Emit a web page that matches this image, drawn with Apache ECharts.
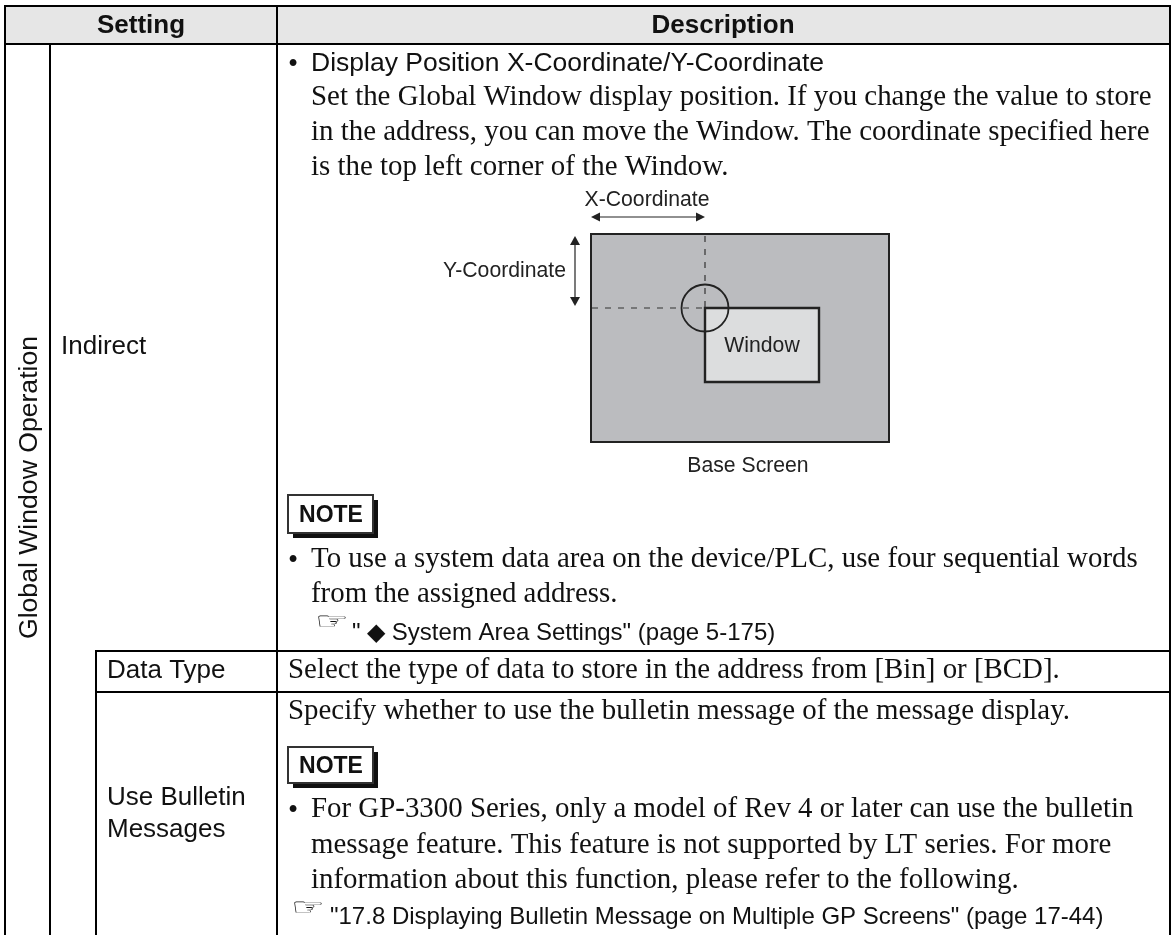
<!DOCTYPE html>
<html><head><meta charset="utf-8">
<style>html,body{margin:0;padding:0;background:#fff}#c{width:1172px;height:935px}</style>
<script src="https://cdn.jsdelivr.net/npm/echarts@6/dist/echarts.min.js"></script>
</head><body><div id="c"></div>
<script>
const headerLabels = ['Setting', 'Description'];
const settingLabels = ['Global Window Operation', 'Indirect', 'Data Type', 'Use Bulletin', 'Messages'];
const serifLines = [
  'Set the Global Window display position. If you change the value to store',
  'in the address, you can move the Window. The coordinate specified here',
  'is the top left corner of the Window.',
  'To use a system data area on the device/PLC, use four sequential words',
  'from the assigned address.',
  'Select the type of data to store in the address from [Bin] or [BCD].',
  'Specify whether to use the bulletin message of the message display.',
  'For GP-3300 Series, only a model of Rev 4 or later can use the bulletin',
  'message feature. This feature is not supported by LT series. For more',
  'information about this function, please refer to the following.'
];
const diagramLabels = ['X-Coordinate', 'Y-Coordinate', 'Window', 'Base Screen'];
const bulletTitle = 'Display Position X-Coordinate/Y-Coordinate';
const noteLabel = 'NOTE';
const refLines = ['" \u25C6 System Area Settings" (page 5-175)', '"17.8 Displaying Bulletin Message on Multiple GP Screens" (page 17-44)'];

const SANS = '"Liberation Sans", Arial, sans-serif', SERIF = '"Liberation Serif", "Times New Roman", serif';
const INK = '#111', G = [];
function T(text, x, y, size, family, opt) {
  opt = opt || {};
  G.push({type:'text', x, y: y + (opt.rot ? 0 : 1.5), rotation: opt.rot || 0, z: 5, scaleY: opt.sy || 1, style:{text, fill: opt.fill || INK,
    font: (opt.bold ? 'bold ' : '') + size + 'px ' + family, textAlign: opt.align || 'left', textVerticalAlign:'middle', verticalAlign:'middle'}});
}
function L(x1, y1, x2, y2, w, dash, col) {
  G.push({type:'line', z: 3, shape:{x1,y1,x2,y2}, style:{stroke: col || '#000', lineWidth: w, lineDash: dash || null}});
}
function R(x, y, w, h, fill, stroke, lw, z) {
  G.push({type:'rect', z: z || 1, shape:{x,y,width:w,height:h}, style:{fill, stroke: stroke || null, lineWidth: lw || 0}});
}
function Tri(pts) { G.push({type:'polygon', z:4, shape:{points:pts}, style:{fill:'#222'}}); }
function Note(x, y, h) {
  R(x + 5, y + 5, 85, h, '#111', null, 0, 2);
  R(x, y, 85, h, '#fff', '#333', 2, 3);
  T(noteLabel, x + 43, y + h / 2, 23, SANS, {bold:true, align:'center'});
}
function Hand(x, y) { T('\u261E', x, y, 38, '"DejaVu Sans"', {sy: 0.62}); }

R(5, 6, 1165, 38, '#e6e6e6');
const lw = 2;
L(4, 6, 1171, 6, lw); L(4, 44, 1171, 44, lw);
L(95, 651, 1171, 651, lw); L(95, 692, 1171, 692, lw);
L(5, 5, 5, 935, lw); L(50, 44, 50, 935, lw); L(96, 651, 96, 935, lw);
L(277, 5, 277, 935, lw); L(1170, 5, 1170, 935, lw);

T(headerLabels[0], 141, 24, 26, SANS, {bold:true, align:'center'});
T(headerLabels[1], 723, 24, 26, SANS, {bold:true, align:'center'});
T(settingLabels[0], 30, 487.5, 26.6, SANS, {rot: Math.PI/2, align:'center'});
T(settingLabels[1], 61, 345, 26, SANS);
T(settingLabels[2], 107, 669, 26, SANS);
T(settingLabels[3], 107, 796, 26, SANS);
T(settingLabels[4], 107, 828, 26, SANS);

const serifY = [96,131,166,558,593,669,710,808,844,879];
const serifX = [311,311,311,311,311,288,288,311,311,311];
serifLines.forEach((s,i)=>T(s, serifX[i], serifY[i], 28.9, SERIF));
T('\u2022', 288, 64, 29, SERIF); T('\u2022', 288, 560, 29, SERIF); T('\u2022', 288, 810, 29, SERIF);
T(bulletTitle, 311, 62, 26.5, SANS);
Note(288, 495, 38); Note(288, 747, 36);
Hand(315, 621); T(refLines[0], 352, 632, 24, SANS);
Hand(291, 907); T(refLines[1], 330, 916, 24, SANS);

R(591, 234, 298, 208, '#bbbcbf', '#222', 2, 2);
R(705, 308, 114, 74, '#dcddde', '#222', 2.4, 3);
L(705, 236, 705, 308, 1.2, [6,7], '#333'); L(592, 308, 705, 308, 1.2, [6,7], '#333');
G.push({type:'circle', z:4, shape:{cx:705, cy:308, r:23.5}, style:{fill:null, stroke:'#222', lineWidth:1.8}});
L(596, 217, 700, 217, 1.2, null, '#222'); L(575, 241, 575, 301, 1.2, null, '#222');
Tri([[591,217],[600,212.5],[600,221.5]]); Tri([[705,217],[696,212.5],[696,221.5]]);
Tri([[575,236],[570,245],[580,245]]); Tri([[575,306],[570,297],[580,297]]);
T(diagramLabels[0], 647, 199, 21.2, SANS, {align:'center', fill:'#222'});
T(diagramLabels[1], 504.5, 270, 21.2, SANS, {align:'center', fill:'#222'});
T(diagramLabels[2], 762, 345, 21.2, SANS, {align:'center', fill:'#222'});
T(diagramLabels[3], 748, 465, 21.2, SANS, {align:'center', fill:'#222'});

const chart = echarts.init(document.getElementById('c'), null, {renderer:'canvas'});
chart.setOption({animation:false, backgroundColor:'#fff', graphic:{elements:G}});
</script></body></html>
